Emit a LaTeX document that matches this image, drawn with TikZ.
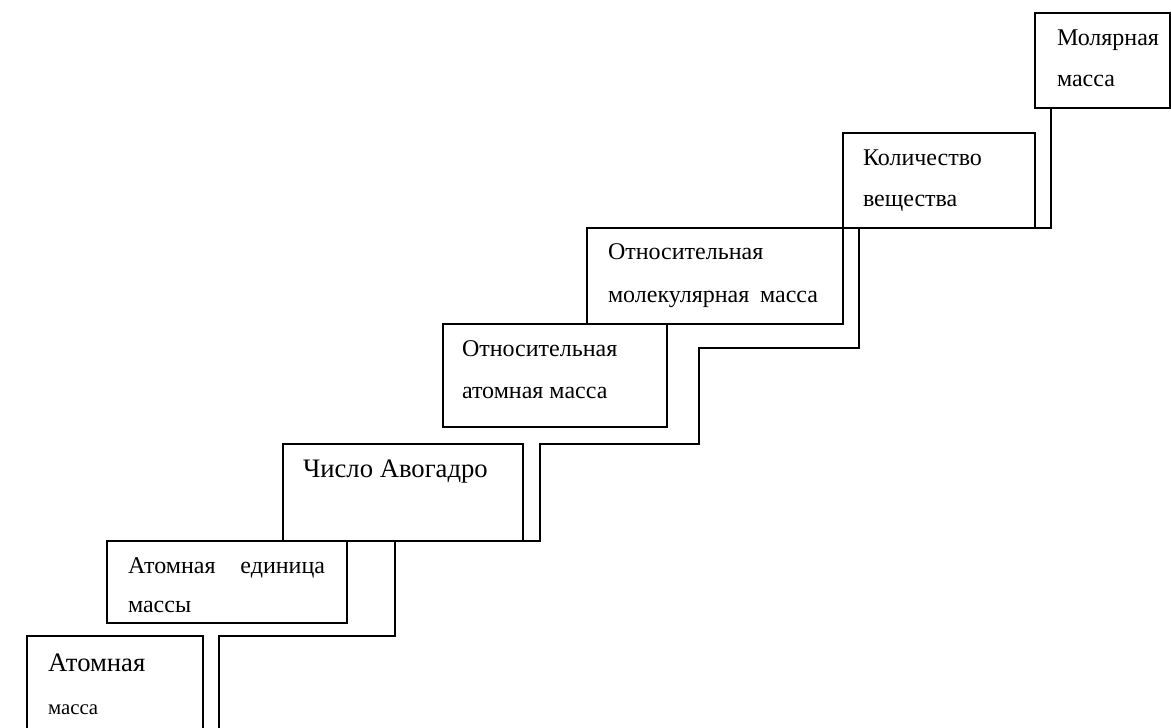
\documentclass[tikz,border=0pt]{standalone}
\usepackage{fontspec}
\setmainfont{Liberation Serif}
\newcommand{\basefs}{\fontsize{18}{20}\selectfont}
\newcommand{\bigfs}{\fontsize{20}{22}\selectfont}
\newcommand{\smallfs}{\fontsize{15.6}{18}\selectfont}
\begin{document}
\begin{tikzpicture}[x=0.75pt,y=-0.75pt,
  box/.style={draw,line width=1.3pt,rectangle,inner sep=0pt,outer sep=0pt,anchor=north west},
  lbl/.style={anchor=base west,inner sep=0pt,outer sep=0pt,font=\basefs},
  conn/.style={line width=1.3pt}]
\useasboundingbox (0,0) rectangle (1171,728);
\clip (0,0) rectangle (1171,728);
% boxes
\node[box,minimum width=132pt,minimum height=93pt] (am) at (27,636) {};
\node[box,minimum width=180pt,minimum height=61.5pt] (aem) at (107,541) {};
\node[box,minimum width=180pt,minimum height=72.75pt] (ava) at (283,444) {};
\node[box,minimum width=168pt,minimum height=77.25pt] (oam) at (443,324) {};
\node[box,minimum width=192pt,minimum height=72pt] (omm) at (587,228) {};
\node[box,minimum width=144pt,minimum height=71.25pt] (kv) at (843,133) {};
\node[box,minimum width=101.25pt,minimum height=71.25pt] (mol) at (1035,13) {};
% labels
\node[lbl,font=\bigfs] (t1a) at (48,671) {Атомная};
\node[lbl,font=\smallfs] (t1b) at (48,714) {масса};
\node[lbl] (t2a) at (128,573) {\hbox to 147.75pt{Атомная\hfill единица}};
\node[lbl] (t2b) at (128,612) {массы};
\node[lbl,font=\bigfs] (t3) at (303,477) {Число Авогадро};
\node[lbl] (t4a) at (462,356) {Относительная};
\node[lbl] (t4b) at (462,398) {атомная масса};
\node[lbl] (t5a) at (608,259) {Относительная};
\node[lbl] (t5b) at (608,302) {\hbox to 157.5pt{молекулярная\hfill масса}};
\node[lbl] (t6a) at (863,165) {Количество};
\node[lbl] (t6b) at (863,206) {вещества};
\node[lbl] (t7a) at (1057,45) {Молярная};
\node[lbl] (t7b) at (1057,86) {масса};
% stair connectors
\coordinate (bstart) at (219,740);
\draw[conn] (ava.south east) -- (540,541) -- (540,444) -- (699,444) -- (699,348)
  -- (859,348) -- (859,228) -- (1051,228) -- ([xshift=12pt]mol.south west);
\draw[conn] (bstart) -- (219,636) -- (395,636) -- ([xshift=84pt]ava.south west);
\end{tikzpicture}
\end{document}
